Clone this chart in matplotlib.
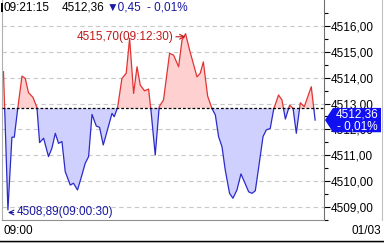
import numpy as np
import matplotlib
matplotlib.use('Agg')
from matplotlib import pyplot as plt
from matplotlib.patches import Polygon, Rectangle
from matplotlib.lines import Line2D
from matplotlib.transforms import blended_transform_factory

plt.rcParams['font.family'] = ['Liberation Sans', 'DejaVu Sans']

# minutes after 09:00 and index value
times = [0.20, 0.50, 0.77, 0.93, 1.15, 1.45, 1.67, 1.89, 2.19, 2.46,
         2.64, 2.91, 3.24, 3.47, 3.70, 3.92, 4.15, 4.37, 4.71, 4.93,
         5.20, 5.50, 5.72, 5.95, 6.18, 6.47, 6.69, 6.94, 7.28, 7.53,
         7.68, 7.91, 8.20, 8.49, 8.72, 8.99, 9.22, 9.44, 9.73, 10.00,
         10.16, 10.45, 10.72, 11.01, 11.42, 11.69, 12.03, 12.26, 12.50, 12.77,
         13.27, 13.49, 13.70, 13.99, 14.28, 14.51, 14.73, 14.96, 15.18, 15.47,
         15.70, 15.97, 16.24, 16.47, 16.76, 16.99, 17.21, 17.43, 17.73, 17.95,
         18.22, 18.45, 18.78, 19.01, 19.24, 19.53, 19.76, 19.98, 20.25, 20.52,
         20.99, 21.25]
prices = [4514.23, 4508.89, 4511.70, 4511.70, 4512.75, 4514.06, 4513.97, 4513.42, 4513.24, 4512.85,
          4511.49, 4511.66, 4510.95, 4511.27, 4511.85, 4511.46, 4511.53, 4510.37, 4509.85, 4509.92,
          4509.66, 4510.24, 4510.69, 4510.95, 4512.58, 4512.13, 4512.08, 4511.40, 4512.10, 4512.62,
          4512.49, 4512.85, 4513.97, 4514.17, 4515.52, 4513.39, 4514.42, 4513.71, 4513.49, 4513.56,
          4512.75, 4511.01, 4512.88, 4513.14, 4514.94, 4514.87, 4514.42, 4515.45, 4515.70, 4515.07,
          4514.03, 4514.17, 4514.61, 4513.29, 4512.81, 4512.56, 4511.72, 4511.33, 4510.43, 4509.53,
          4509.34, 4509.66, 4510.28, 4509.98, 4509.59, 4509.53, 4509.63, 4510.50, 4511.72, 4511.98,
          4512.04, 4512.78, 4513.33, 4513.14, 4512.40, 4512.94, 4512.81, 4511.85, 4513.03, 4512.88,
          4513.65, 4512.36]
prev_close = 4512.81
now_time = '09:21:15'
change = 0.45
change_pct = -0.01
date_label = '01/03'
start_label = '09:00'


def fmt(v):
    return ('%.2f' % v).replace('.', ',')


def hms(m):
    s = int(round(m * 60))
    return '%02d:%02d:%02d' % (9 + s // 3600, (s // 60) % 60, s % 60)


t = np.array(times)
v = np.array(prices)

# add crossing points so red/blue parts meet on the base line
tt, vv = [t[0]], [v[0]]
for i in range(1, len(t)):
    if (v[i - 1] - prev_close) * (v[i] - prev_close) < 0:
        tc = t[i - 1] + (prev_close - v[i - 1]) * (t[i] - t[i - 1]) / (v[i] - v[i - 1])
        tt.append(tc)
        vv.append(prev_close)
    tt.append(t[i])
    vv.append(v[i])
tt = np.array(tt)
vv = np.array(vv)

red = '#e03434'
blue = '#2b2bc8'
fs = 8.5

fig = plt.figure(figsize=(3.84, 2.43), dpi=100)
W, H = 384.0, 243.0
ax = fig.add_axes([2 / W, 23 / H, 322 / W, 220 / H])
ax.set_xlim(0.1, 21.85)
ax.set_ylim(4508.50, 4517.0)

ax.fill_between(tt, vv, prev_close, where=vv >= prev_close, color='#ffd0d0', lw=0, interpolate=True)
ax.fill_between(tt, vv, prev_close, where=vv <= prev_close, color='#d0d0ff', lw=0, interpolate=True)
ax.plot(tt, np.where(vv >= prev_close, vv, np.nan), color=red, lw=0.9)
ax.plot(tt, np.where(vv <= prev_close, vv, np.nan), color=blue, lw=0.9)
ax.axhline(prev_close, color='black', lw=0.9, ls=(0, (2.2, 1.6)), zorder=3)

for g in range(4509, 4517):
    ax.axhline(g, color='#c8c8c8', lw=0.8, ls=(0, (4, 3)), zorder=0)

ax.yaxis.tick_right()
ax.set_yticks(range(4509, 4517))
ax.set_yticks(np.arange(4508.5, 4517.0, 0.5), minor=True)
ax.set_yticklabels([fmt(g) for g in range(4509, 4517)], fontsize=fs)
ax.tick_params(axis='y', which='major', length=4, width=0.8, pad=1, colors='black')
ax.tick_params(axis='y', which='minor', length=3, width=0.8)
ax.set_xticks([])
ax.spines['top'].set_visible(False)
ax.spines['right'].set_color('#707070')
ax.spines['bottom'].set_color('#909090')
ax.spines['left'].set_color('#b0b0b0')

# high / low labels
imax = int(np.argmax(v))
imin = int(np.argmin(v))
ax.annotate(fmt(v[imax]) + '(' + hms(t[imax]) + ')', xy=(t[imax], v[imax] - 0.12),
            xytext=(-9, 0), textcoords='offset points', ha='right', va='center',
            fontsize=fs, color='#c01818',
            arrowprops=dict(arrowstyle='->', color='#c01818', lw=0.8, shrinkA=0, shrinkB=0))
ax.annotate(fmt(v[imin]) + '(' + hms(t[imin]) + ')', xy=(t[imin], v[imin] - 0.1),
            xytext=(6, 0), textcoords='offset points', ha='left', va='center',
            fontsize=fs, color='#1818a0',
            arrowprops=dict(arrowstyle='->', color='#1818a0', lw=0.8, shrinkA=0, shrinkB=0))

# current price box
tr = blended_transform_factory(fig.transFigure, ax.transData)
last = v[-1]
hh = 0.47
box = Polygon([(325 / W, last), (333 / W, last + hh), (381 / W, last + hh),
               (381 / W, last - hh), (333 / W, last - hh)],
              closed=True, transform=tr, fc='#1010f0', ec='none', clip_on=False, zorder=10)
fig.add_artist(box)
fig.text(357 / W, last + 0.22, fmt(last), transform=tr, color='white', fontsize=fs,
         ha='center', va='center', zorder=11)
fig.text(357 / W, last - 0.24, '- ' + ('%.2f' % abs(change_pct)).replace('.', ',') + '%',
         transform=tr, color='white', fontsize=fs, ha='center', va='center', zorder=11)

# header
fig.add_artist(Rectangle((1 / W, 1 - 12 / H), 2 / W, 9 / H, transform=fig.transFigure,
                         fc='black', ec='none'))
hy = 1 - 8 / H
fig.text(4 / W, hy, now_time, fontsize=fs, va='center', color='black')
fig.text(62 / W, hy, fmt(last), fontsize=fs, va='center', color='black')
fig.text(107 / W, hy, '\u25bc' + fmt(change), fontsize=fs, va='center', color='#1818a0')
fig.text(147 / W, hy, '- ' + ('%.2f' % abs(change_pct)).replace('.', ',') + '%',
         fontsize=fs, va='center', color='#1818a0')

# bottom time row
fig.text(4 / W, 1 - 231 / H, start_label, fontsize=fs, va='center', color='black')
fig.text(381 / W, 1 - 231 / H, date_label, fontsize=fs, va='center', ha='right', color='black')
fig.add_artist(Line2D([0, 1], [1 - 240.5 / H] * 2, transform=fig.transFigure, color='black', lw=1))
fig.add_artist(Line2D([381.5 / W] * 2, [1 - 220 / H, 1], transform=fig.transFigure,
                      color='#c0c0c0', lw=0.8))
fig.add_artist(Rectangle((0, 0), 1, 2 / H, transform=fig.transFigure, fc='#d8d8d8', ec='none'))

fig.savefig('out.png', dpi=100)
